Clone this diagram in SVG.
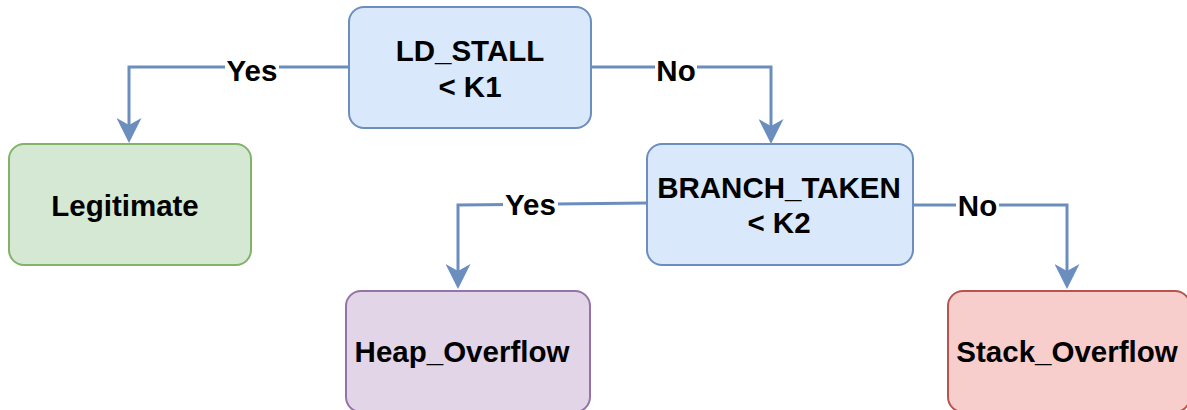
<svg xmlns="http://www.w3.org/2000/svg" width="1187" height="410" viewBox="0 0 1187 410">
<defs>
<style>
.box{stroke-width:2}
.blue{fill:#dae8fc;stroke:#6c8ebf}
.green{fill:#d5e8d4;stroke:#82b366}
.purple{fill:#e1d5e7;stroke:#9673a6}
.red{fill:#f8cecc;stroke:#b85450}
.t{font-family:"Liberation Sans",Arial,sans-serif;font-weight:bold;font-size:29.5px;fill:#000;text-anchor:middle}
.edge{fill:none;stroke:#6c8ebf;stroke-width:3;marker-end:url(#arr)}
.lbg{fill:#fff}
</style>
<marker id="arr" markerUnits="userSpaceOnUse" viewBox="0 0 25 25" markerWidth="25" markerHeight="25" refX="7" refY="12.5" orient="auto">
<path d="M0,0 L25,12.5 L0,25 L7,12.5 Z" fill="#6c8ebf"/>
</marker>
</defs>
<rect width="1187" height="410" fill="#fff"/>
<g id="connectors">
<path class="edge" d="M349,67 H129 V125"/>
<path class="edge" d="M591,67 H771 V126"/>
<path class="edge" d="M647,203 L458,205 V271"/>
<path class="edge" d="M913,205 H1067 V271"/>
<rect class="lbg" x="225" y="56" width="54" height="28"/>
<text class="t" x="252" y="81">Yes</text>
<rect class="lbg" x="655" y="56" width="42" height="28"/>
<text class="t" x="676" y="81">No</text>
<rect class="lbg" x="503" y="190" width="55" height="28"/>
<text class="t" x="530.5" y="215">Yes</text>
<rect class="lbg" x="956" y="191" width="43" height="28"/>
<text class="t" x="977.5" y="216">No</text>
</g>
<g id="ld_stall">
<rect class="box blue" x="349" y="7" width="242" height="121" rx="15"/>
<text class="t" x="470" y="61">LD_STALL</text>
<text class="t" x="470" y="97">&lt; K1</text>
</g>
<g id="legitimate">
<rect class="box green" x="9" y="144" width="242" height="121" rx="15"/>
<text class="t" x="125" y="216">Legitimate</text>
</g>
<g id="branch_taken">
<rect class="box blue" x="647" y="144" width="266" height="121" rx="15"/>
<text class="t" x="779" y="198">BRANCH_TAKEN</text>
<text class="t" x="779" y="233">&lt; K2</text>
</g>
<g id="heap_overflow">
<rect class="box purple" x="346" y="291" width="244" height="121" rx="15"/>
<text class="t" x="462" y="362">Heap_Overflow</text>
</g>
<g id="stack_overflow">
<rect class="box red" x="948" y="291" width="242" height="121" rx="15"/>
<text class="t" x="1067" y="362">Stack_Overflow</text>
</g>
</svg>
